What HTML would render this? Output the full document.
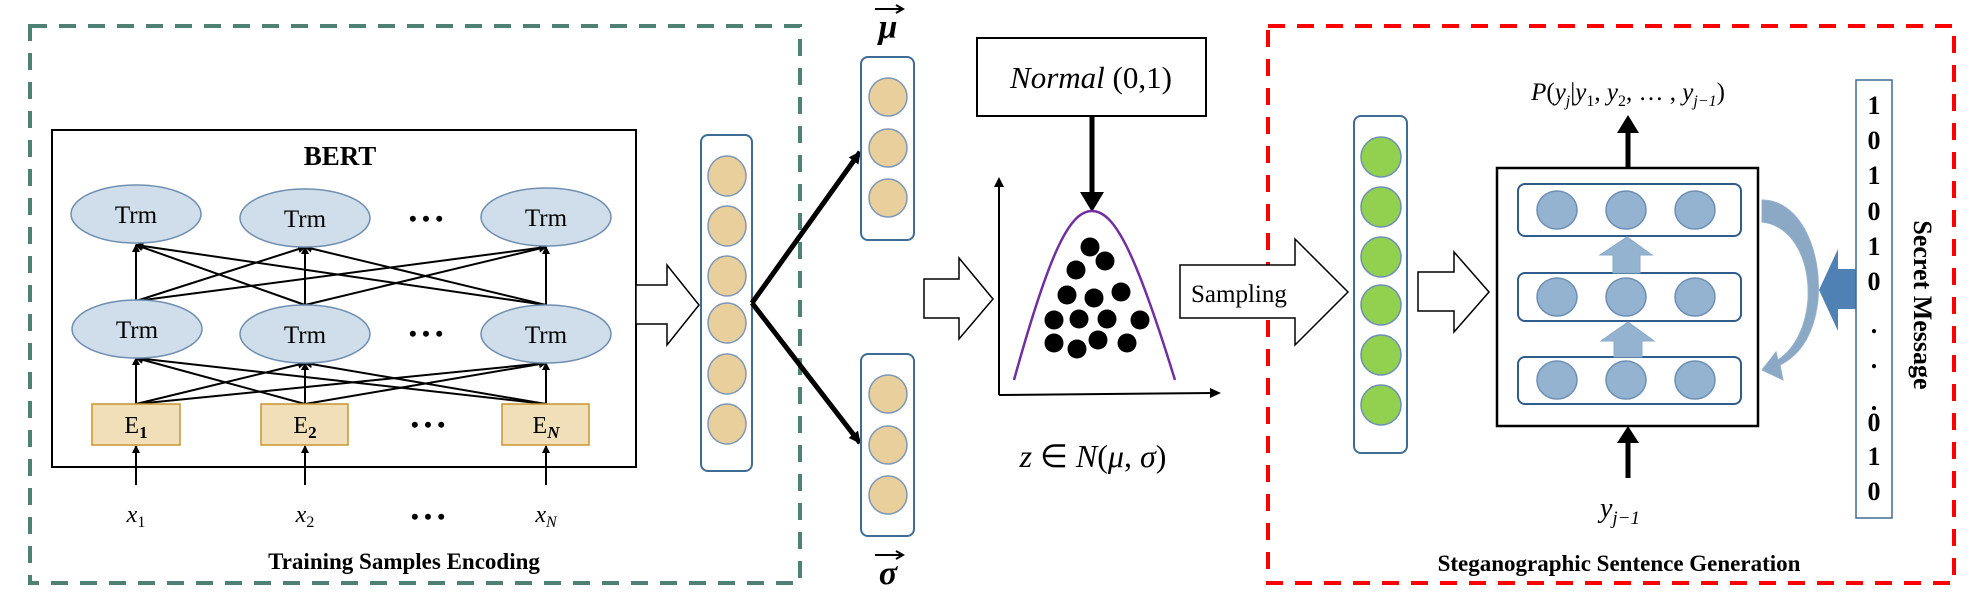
<!DOCTYPE html>
<html><head><meta charset="utf-8"><style>html,body{margin:0;padding:0;background:#fff}svg{display:block}</style></head><body>
<svg width="1986" height="614" viewBox="0 0 1986 614" xmlns="http://www.w3.org/2000/svg" font-family="Liberation Serif, serif">
<defs>
<marker id="ah" markerWidth="8" markerHeight="8" refX="7" refY="4" orient="auto" markerUnits="userSpaceOnUse"><path d="M0,0 L8,4 L0,8 z" fill="#000"/></marker>
<marker id="ah2" markerWidth="12" markerHeight="12" refX="11" refY="6" orient="auto" markerUnits="userSpaceOnUse"><path d="M0,0 L12,6 L0,12 z" fill="#000"/></marker>
</defs>
<!-- green dashed -->
<rect x="30" y="26" width="770" height="557" fill="none" stroke="#4f8074" stroke-width="4" stroke-dasharray="17,12"/>
<!-- red dashed -->
<rect x="1268" y="26" width="686" height="557" fill="none" stroke="#f00" stroke-width="4" stroke-dasharray="17,12"/>
<!-- BERT -->
<rect x="52" y="130" width="584" height="337" fill="#fff" stroke="#000" stroke-width="2"/>
<text x="340" y="165" font-size="27" font-weight="bold" text-anchor="middle">BERT</text>
<g stroke="#000" stroke-width="2" marker-end="url(#ah)">
<line x1="136" y1="301" x2="136" y2="245"/><line x1="136" y1="301" x2="305" y2="247"/><line x1="136" y1="301" x2="546" y2="247"/>
<line x1="305" y1="305" x2="136" y2="245"/><line x1="305" y1="305" x2="305" y2="247"/><line x1="305" y1="305" x2="546" y2="247"/>
<line x1="546" y1="305" x2="136" y2="245"/><line x1="546" y1="305" x2="305" y2="247"/><line x1="546" y1="305" x2="546" y2="247"/>
<line x1="136" y1="404" x2="136" y2="358"/><line x1="136" y1="404" x2="305" y2="363"/><line x1="136" y1="404" x2="546" y2="363"/>
<line x1="305" y1="404" x2="136" y2="358"/><line x1="305" y1="404" x2="305" y2="363"/><line x1="305" y1="404" x2="546" y2="363"/>
<line x1="546" y1="404" x2="136" y2="358"/><line x1="546" y1="404" x2="305" y2="363"/><line x1="546" y1="404" x2="546" y2="363"/>
<line x1="136" y1="485" x2="136" y2="446"/><line x1="305" y1="485" x2="305" y2="446"/><line x1="546" y1="485" x2="546" y2="446"/>
</g>
<g fill="#cfdeea" stroke="#6f8eb0" stroke-width="1.5">
<ellipse cx="136" cy="214" rx="65" ry="29"/><ellipse cx="305" cy="218" rx="65" ry="29"/><ellipse cx="546" cy="217" rx="65" ry="29"/>
<ellipse cx="137" cy="329" rx="65" ry="29"/><ellipse cx="305" cy="334" rx="65" ry="29"/><ellipse cx="546" cy="334" rx="65" ry="29"/>
</g>
<g font-size="25" text-anchor="middle">
<text x="136" y="223">Trm</text><text x="305" y="227">Trm</text><text x="546" y="226">Trm</text>
<text x="137" y="338">Trm</text><text x="305" y="343">Trm</text><text x="546" y="343">Trm</text>
</g>
<g font-size="22" font-weight="bold" text-anchor="middle"><text x="426" y="226">• • •</text><text x="426" y="341">• • •</text><text x="428" y="432">• • •</text><text x="428" y="524">• • •</text></g>
<g fill="#f0dfb9" stroke="#c8962c" stroke-width="1.5">
<rect x="92" y="404" width="88" height="41"/><rect x="261" y="404" width="87" height="41"/><rect x="502" y="404" width="87" height="41"/>
</g>
<g font-size="24" text-anchor="middle">
<text x="136" y="433">E<tspan font-size="17" font-weight="bold" dy="5">1</tspan></text>
<text x="305" y="433">E<tspan font-size="17" font-weight="bold" dy="5">2</tspan></text>
<text x="546" y="433">E<tspan font-size="17" font-weight="bold" font-style="italic" dy="5">N</tspan></text>
</g>
<g font-size="24" font-style="italic" text-anchor="middle">
<text x="136" y="522">x<tspan font-size="16" font-style="normal" dy="5">1</tspan></text>
<text x="305" y="522">x<tspan font-size="16" font-style="normal" dy="5">2</tspan></text>
<text x="546" y="522">x<tspan font-size="16" dy="5">N</tspan></text>
</g>
<text x="404" y="569" font-size="23" font-weight="bold" text-anchor="middle">Training Samples Encoding</text>
<!-- hollow arrows -->
<path d="M636,285 H667 V265 L699,305 L667,345 V324 H636 Z" fill="#fff" stroke="#000" stroke-width="1.5"/>
<path d="M924,279 H959 V258 L993,299 L959,339 V318 H924 Z" fill="#fff" stroke="#000" stroke-width="1.5"/>
<path d="M1180,265 H1295 V239 L1348,292 L1295,345 V318 H1180 Z" fill="#fff" stroke="#000" stroke-width="1.5"/>
<text x="1191" y="302" font-size="25">Sampling</text>
<path d="M1418,272 H1454 V252 L1489,292 L1454,332 V311 H1418 Z" fill="#fff" stroke="#000" stroke-width="1.5"/>
<!-- BERT output column -->
<rect x="701" y="135" width="51" height="336" rx="7" fill="#fff" stroke="#3f6c94" stroke-width="2"/>
<g fill="#e8cf9c" stroke="#7f98b5" stroke-width="1.5">
<ellipse cx="727" cy="176" rx="19" ry="20"/><ellipse cx="727" cy="226" rx="19" ry="20"/><ellipse cx="727" cy="276" rx="19" ry="20"/><ellipse cx="727" cy="323" rx="19" ry="20"/><ellipse cx="727" cy="374" rx="19" ry="20"/><ellipse cx="727" cy="424" rx="19" ry="20"/>
</g>
<g stroke="#000" stroke-width="5" marker-end="url(#ah2)">
<line x1="752" y1="303" x2="860" y2="152"/><line x1="752" y1="303" x2="860" y2="443"/>
</g>
<!-- mu / sigma columns -->
<rect x="861" y="57" width="53" height="183" rx="7" fill="#fff" stroke="#3f6c94" stroke-width="2"/>
<rect x="861" y="354" width="53" height="182" rx="7" fill="#fff" stroke="#3f6c94" stroke-width="2"/>
<g fill="#e8cf9c" stroke="#7f98b5" stroke-width="1.5">
<circle cx="888" cy="97" r="19"/><circle cx="888" cy="148" r="19"/><circle cx="888" cy="198" r="19"/>
<circle cx="888" cy="394" r="19"/><circle cx="888" cy="445" r="19"/><circle cx="888" cy="495" r="19"/>
</g>
<text x="888" y="38" font-size="34" font-weight="bold" font-style="italic" text-anchor="middle">μ</text>
<line x1="875" y1="9" x2="902" y2="9" stroke="#000" stroke-width="2"/><path d="M896,5 L903,9 L896,13" fill="none" stroke="#000" stroke-width="2"/>
<text x="888" y="584" font-size="34" font-weight="bold" font-style="italic" text-anchor="middle">σ</text>
<line x1="875" y1="555" x2="902" y2="555" stroke="#000" stroke-width="2"/><path d="M896,551 L903,555 L896,559" fill="none" stroke="#000" stroke-width="2"/>
<!-- Normal -->
<rect x="977" y="38" width="229" height="78" fill="#fff" stroke="#000" stroke-width="2"/>
<text x="1091" y="88" font-size="31" text-anchor="middle"><tspan font-style="italic">Normal</tspan> (0,1)</text>
<line x1="1092" y1="116" x2="1092" y2="195" stroke="#000" stroke-width="5"/>
<path d="M1080,192 L1104,192 L1092,212 Z" fill="#000"/>
<!-- axes -->
<line x1="999" y1="185" x2="999" y2="395" stroke="#000" stroke-width="2"/>
<path d="M994,187 L999,177 L1004,187 Z" fill="#000"/>
<line x1="999" y1="395" x2="1214" y2="393" stroke="#000" stroke-width="2"/>
<path d="M1210,388 L1221,393 L1210,398 Z" fill="#000"/>
<path d="M1014,380 C1050,250 1070,211 1092,211 C1114,211 1135,250 1175,380" fill="none" stroke="#7030a0" stroke-width="2.5"/>
<g fill="#000">
<circle cx="1090" cy="247" r="9.5"/><circle cx="1105" cy="261" r="9.5"/><circle cx="1076" cy="270" r="9.5"/><circle cx="1067" cy="295" r="9.5"/><circle cx="1094" cy="298" r="9.5"/><circle cx="1121" cy="292" r="9.5"/><circle cx="1054" cy="320" r="9.5"/><circle cx="1079" cy="319" r="9.5"/><circle cx="1107" cy="319" r="9.5"/><circle cx="1140" cy="320" r="9.5"/><circle cx="1054" cy="343" r="9.5"/><circle cx="1077" cy="349" r="9.5"/><circle cx="1098" cy="340" r="9.5"/><circle cx="1127" cy="343" r="9.5"/>
</g>
<text x="1093" y="467" font-size="32" text-anchor="middle"><tspan font-style="italic">z</tspan> ∈ <tspan font-style="italic">N</tspan>(<tspan font-style="italic">μ</tspan>, <tspan font-style="italic">σ</tspan>)</text>
<!-- green column -->
<rect x="1354" y="116" width="53" height="337" rx="7" fill="#fff" stroke="#3f6c94" stroke-width="2"/>
<g fill="#92d050" stroke="#6d8fb5" stroke-width="1.5">
<circle cx="1381" cy="157" r="20"/><circle cx="1381" cy="207" r="20"/><circle cx="1381" cy="257" r="20"/><circle cx="1381" cy="305" r="20"/><circle cx="1381" cy="355" r="20"/><circle cx="1381" cy="405" r="20"/>
</g>
<!-- decoder box -->
<rect x="1497" y="168" width="261" height="258" fill="#fff" stroke="#000" stroke-width="2.5"/>
<g fill="#fff" stroke="#2f5c8a" stroke-width="2">
<rect x="1518" y="184" width="223" height="52" rx="7"/><rect x="1518" y="273" width="223" height="48" rx="7"/><rect x="1518" y="357" width="223" height="47" rx="7"/>
</g>
<g fill="#94b3d1" stroke="#6d8fb5" stroke-width="1.5">
<ellipse cx="1557" cy="210" rx="20" ry="19"/><ellipse cx="1626" cy="210" rx="20" ry="19"/><ellipse cx="1695" cy="210" rx="20" ry="19"/>
<ellipse cx="1557" cy="297" rx="20" ry="19"/><ellipse cx="1626" cy="297" rx="20" ry="19"/><ellipse cx="1695" cy="297" rx="20" ry="19"/>
<ellipse cx="1557" cy="380" rx="20" ry="19"/><ellipse cx="1626" cy="380" rx="20" ry="19"/><ellipse cx="1695" cy="380" rx="20" ry="19"/>
</g>
<path d="M1613,273 V255 H1600 L1627,237 L1652,255 H1640 V273 Z" fill="#94b3d1" stroke="#8aa8c8"/>
<path d="M1614,357 V341 H1601 L1628,322 L1654,341 H1642 V357 Z" fill="#94b3d1" stroke="#8aa8c8"/>
<line x1="1628" y1="168" x2="1628" y2="130" stroke="#000" stroke-width="5"/><path d="M1617,133 L1639,133 L1628,115 Z" fill="#000"/>
<line x1="1628" y1="478" x2="1628" y2="440" stroke="#000" stroke-width="5"/><path d="M1617,443 L1639,443 L1628,426 Z" fill="#000"/>
<text x="1628" y="100" font-size="25" text-anchor="middle" font-style="italic">P<tspan font-style="normal">(</tspan>y<tspan font-size="16" dy="6">j</tspan><tspan dy="-6" font-style="normal">|</tspan>y<tspan font-size="16" font-style="normal" dy="6">1</tspan><tspan dy="-6" font-style="normal">, </tspan>y<tspan font-size="16" font-style="normal" dy="6">2</tspan><tspan dy="-6" font-style="normal">, … , </tspan>y<tspan font-size="16" dy="6">j−1</tspan><tspan dy="-6" font-style="normal">)</tspan></text>
<text x="1620" y="517" font-size="28" font-style="italic" text-anchor="middle">y<tspan font-size="19" dy="7">j−1</tspan></text>
<!-- curved arrow -->
<path d="M1762,200 C1800,200 1822,250 1818,300 C1814,335 1800,355 1780,365 L1783,380 L1762,370 L1776,352 L1778,360 C1796,348 1806,325 1808,300 C1810,255 1790,225 1762,222 Z" fill="#7f9fbf" stroke="#8aa8c8" opacity="0.9"/>
<!-- blue arrow -->
<path d="M1856,269 H1838 V249 L1819,290 L1838,331 V309 H1856 Z" fill="#4f81b4"/>
<!-- binary -->
<rect x="1856" y="80" width="36" height="438" fill="#fff" stroke="#3f6c94" stroke-width="1.5"/>
<g font-size="26" font-weight="bold" text-anchor="middle">
<text x="1874" y="114">1</text><text x="1874" y="149">0</text><text x="1874" y="184">1</text><text x="1874" y="220">0</text><text x="1874" y="255">1</text><text x="1874" y="290">0</text><text x="1874" y="333">.</text><text x="1874" y="368">.</text><text x="1874" y="410">.</text><text x="1874" y="431">0</text><text x="1874" y="465">1</text><text x="1874" y="500">0</text>
</g>
<text transform="translate(1914,305) rotate(90)" font-size="26" font-weight="bold" text-anchor="middle">Secret Message</text>
<text x="1619" y="571" font-size="23" font-weight="bold" text-anchor="middle">Steganographic Sentence Generation</text>
</svg>
</body></html>
